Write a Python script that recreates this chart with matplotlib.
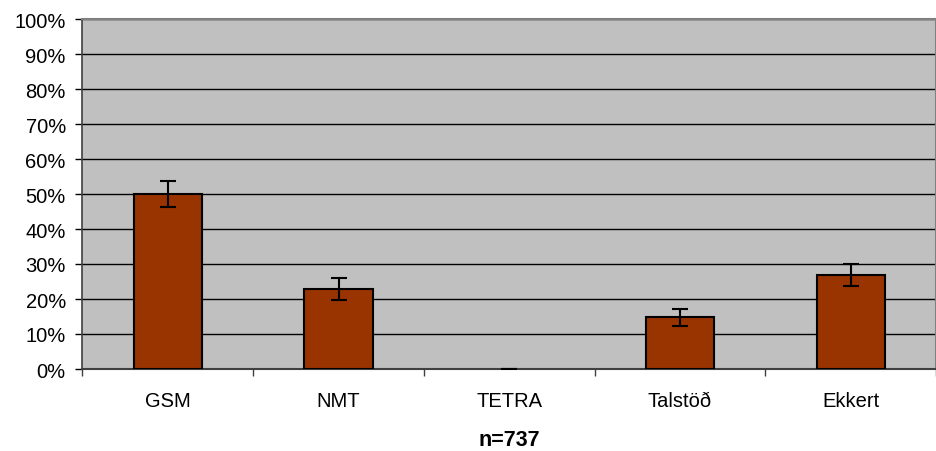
import matplotlib
matplotlib.use('Agg')
import matplotlib.pyplot as plt
import numpy as np
from matplotlib.ticker import FixedLocator, NullFormatter

categories = ['GSM', 'NMT', 'TETRA', 'Talstöð', 'Ekkert']
values = [50.0, 22.9, 0.0, 14.8, 26.8]
errors = [3.8, 3.1, 0.0, 2.4, 3.1]
y_ticks = list(range(0, 101, 10))
y_labels = ['%d%%' % t for t in y_ticks]

plt.rcParams['font.family'] = ['Liberation Sans', 'DejaVu Sans']

fig = plt.figure(figsize=(9.37, 4.52), dpi=100)
ax = fig.add_axes([82.5 / 937, 1 - 370 / 452, (936 - 82.5) / 937, 350 / 452])
ax.set_facecolor('#c0c0c0')

x = np.arange(len(categories))
# zero-height bars get no outline (like the TETRA column)
edge_w = [1.5 if v > 0 else 0 for v in values]
ax.bar(x, values, width=0.4, color='#993300', edgecolor='black', linewidth=edge_w, zorder=3)
ax.errorbar(x, values, yerr=errors, fmt='none', ecolor='black', elinewidth=1.5,
            capsize=5.8, capthick=1.5, zorder=4)

ax.set_xlim(-0.5, len(categories) - 0.5)
ax.set_ylim(0, 100)
ax.set_yticks(y_ticks)
ax.set_yticklabels(y_labels, fontsize=14.5)
ax.yaxis.grid(True, color='black', linewidth=1.0, zorder=1)
ax.set_axisbelow(True)

# category labels centred, ticks between categories
ax.set_xticks(x)
ax.set_xticklabels(categories, fontsize=14.5)
ax.tick_params(axis='x', which='major', length=0, pad=15.5)
ax.xaxis.set_minor_locator(FixedLocator(np.arange(-0.5, len(categories), 1.0)))
ax.xaxis.set_minor_formatter(NullFormatter())
ax.tick_params(axis='x', which='minor', length=5, width=1.0, color='#404040')
ax.tick_params(axis='y', length=5, width=1.0, color='black', pad=7)

for side in ['top', 'right']:
    ax.spines[side].set_color('#808080')
    ax.spines[side].set_linewidth(1.5)
ax.spines['left'].set_color('#404040')
ax.spines['bottom'].set_color('#404040')
ax.spines['left'].set_linewidth(1.2)
ax.spines['bottom'].set_linewidth(1.5)

ax.set_xlabel('n=737', fontsize=15.5, fontweight='bold', labelpad=14)

fig.savefig('out.png', dpi=100)
